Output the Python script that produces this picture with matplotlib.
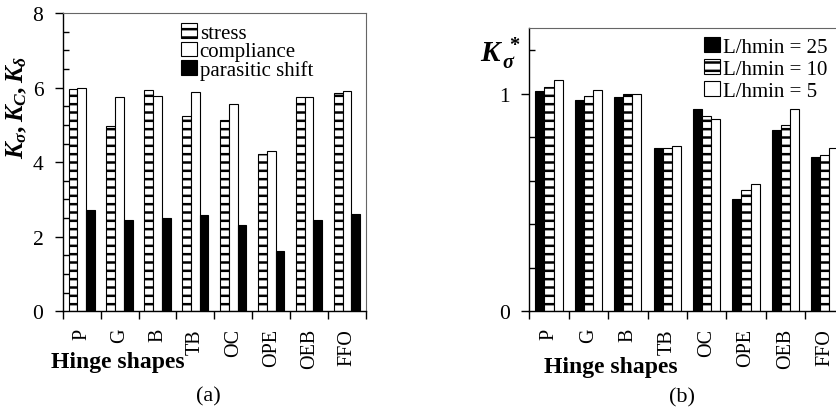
import numpy as np
import matplotlib as mpl
mpl.use('Agg')
import matplotlib.pyplot as plt

# data
shapes = ['P', 'G', 'B', 'TB', 'OC', 'OPE', 'OEB', 'FFO']

stress = [5.96, 4.96, 5.93, 5.25, 5.14, 4.22, 5.74, 5.86]
compliance = [6.00, 5.74, 5.78, 5.89, 5.56, 4.31, 5.74, 5.90]
parasitic = [2.72, 2.45, 2.49, 2.59, 2.31, 1.62, 2.46, 2.61]

k_25 = [1.012, 0.972, 0.985, 0.752, 0.927, 0.518, 0.835, 0.708]
k_10 = [1.032, 0.991, 1.000, 0.748, 0.896, 0.555, 0.858, 0.720]
k_5 = [1.061, 1.018, 1.000, 0.760, 0.882, 0.587, 0.928, 0.751]

plt.rcParams['font.family'] = ['Liberation Serif', 'DejaVu Serif']
plt.rcParams['mathtext.fontset'] = 'custom'
plt.rcParams['mathtext.it'] = 'Liberation Serif:italic:bold'
plt.rcParams['mathtext.rm'] = 'Liberation Serif:bold'
plt.rcParams['mathtext.bf'] = 'Liberation Serif:bold'
plt.rcParams['hatch.linewidth'] = 1.8

W, H = 836, 414
fig = plt.figure(figsize=(W / 100, H / 100), dpi=100)


def px_axes(x0, x1, y0, y1):
    # y0 = top, y1 = bottom, in pixels from the top
    return fig.add_axes([x0 / W, 1 - y1 / H, (x1 - x0) / W, (y1 - y0) / H])


def style_axes(ax, ymax, major, minor):
    n = len(shapes)
    ax.set_xlim(0, n)
    ax.set_ylim(0, ymax)
    ax.set_xticks(np.arange(n) + 0.5)
    ax.set_xticklabels(shapes, rotation=90, fontsize=14.5)
    ax.set_xticks(np.arange(n + 1), minor=True)
    ax.tick_params(axis='x', which='major', length=0, pad=12)
    ax.tick_params(axis='x', which='minor', length=6, width=1, direction='out')
    ax.set_yticks(major)
    ax.set_yticks(minor, minor=True)
    ax.tick_params(axis='y', which='major', length=6, width=1, direction='out',
                   labelsize=15.5, pad=8)
    ax.tick_params(axis='y', which='minor', length=4, width=1, direction='in')
    ax.spines['left'].set_linewidth(1)
    ax.spines['bottom'].set_linewidth(1)
    ax.spines['top'].set_color('#666666')
    ax.spines['right'].set_color('#666666')


x = np.arange(len(shapes)) + 0.5
bw = 0.23
bar_kw = dict(edgecolor='black', linewidth=0.8)
leg_kw = dict(bbox_transform=fig.transFigure, frameon=False, fontsize=15,
              handlelength=0.75, handleheight=0.7, handletextpad=0.15,
              borderpad=0, borderaxespad=0, loc='upper left')

# (a)
ax1 = px_axes(62.7, 366, 14, 312.3)
ax1.bar(x - bw, stress, bw, color='white', hatch='--', label='stress', **bar_kw)
ax1.bar(x, compliance, bw, color='white', label='compliance', **bar_kw)
ax1.bar(x + bw, parasitic, bw, color='black', label='parasitic shift', **bar_kw)
style_axes(ax1, 8, [0, 2, 4, 6, 8], np.arange(0, 8.01, 0.5))
ax1.legend(bbox_to_anchor=(181 / W, 1 - 24 / H), labelspacing=-0.05, **leg_kw)
fig.text(17 / W, 1 - 107 / H, r'$K_\sigma, K_C, K_\delta$', rotation=90,
         fontsize=18, ha='center', va='center')
fig.text(118 / W, 1 - 363 / H, 'Hinge shapes', fontsize=17, fontweight='bold',
         ha='center', va='center')
fig.text(208 / W, 1 - 397 / H, '(a)', fontsize=16, ha='center', va='center')

# (b)
ax2 = px_axes(529.3, 844.5, 29.3, 312.3)
ax2.bar(x - bw, k_25, bw, color='black', label='L/hmin = 25', **bar_kw)
ax2.bar(x, k_10, bw, color='white', hatch='--', label='L/hmin = 10', **bar_kw)
ax2.bar(x + bw, k_5, bw, color='white', label='L/hmin = 5', **bar_kw)
style_axes(ax2, 1.3, [0, 1], np.arange(0, 1.21, 0.2))
ax2.legend(bbox_to_anchor=(704 / W, 1 - 38 / H), labelspacing=0.12, **leg_kw)
fig.text(500 / W, 1 - 54 / H, r'$K_{\,\sigma}^{\;*}$', fontsize=21,
         ha='center', va='center')
fig.text(611 / W, 1 - 367 / H, 'Hinge shapes', fontsize=17, fontweight='bold',
         ha='center', va='center')
fig.text(682 / W, 1 - 398 / H, '(b)', fontsize=16, ha='center', va='center')

fig.savefig('out.png', dpi=100)
